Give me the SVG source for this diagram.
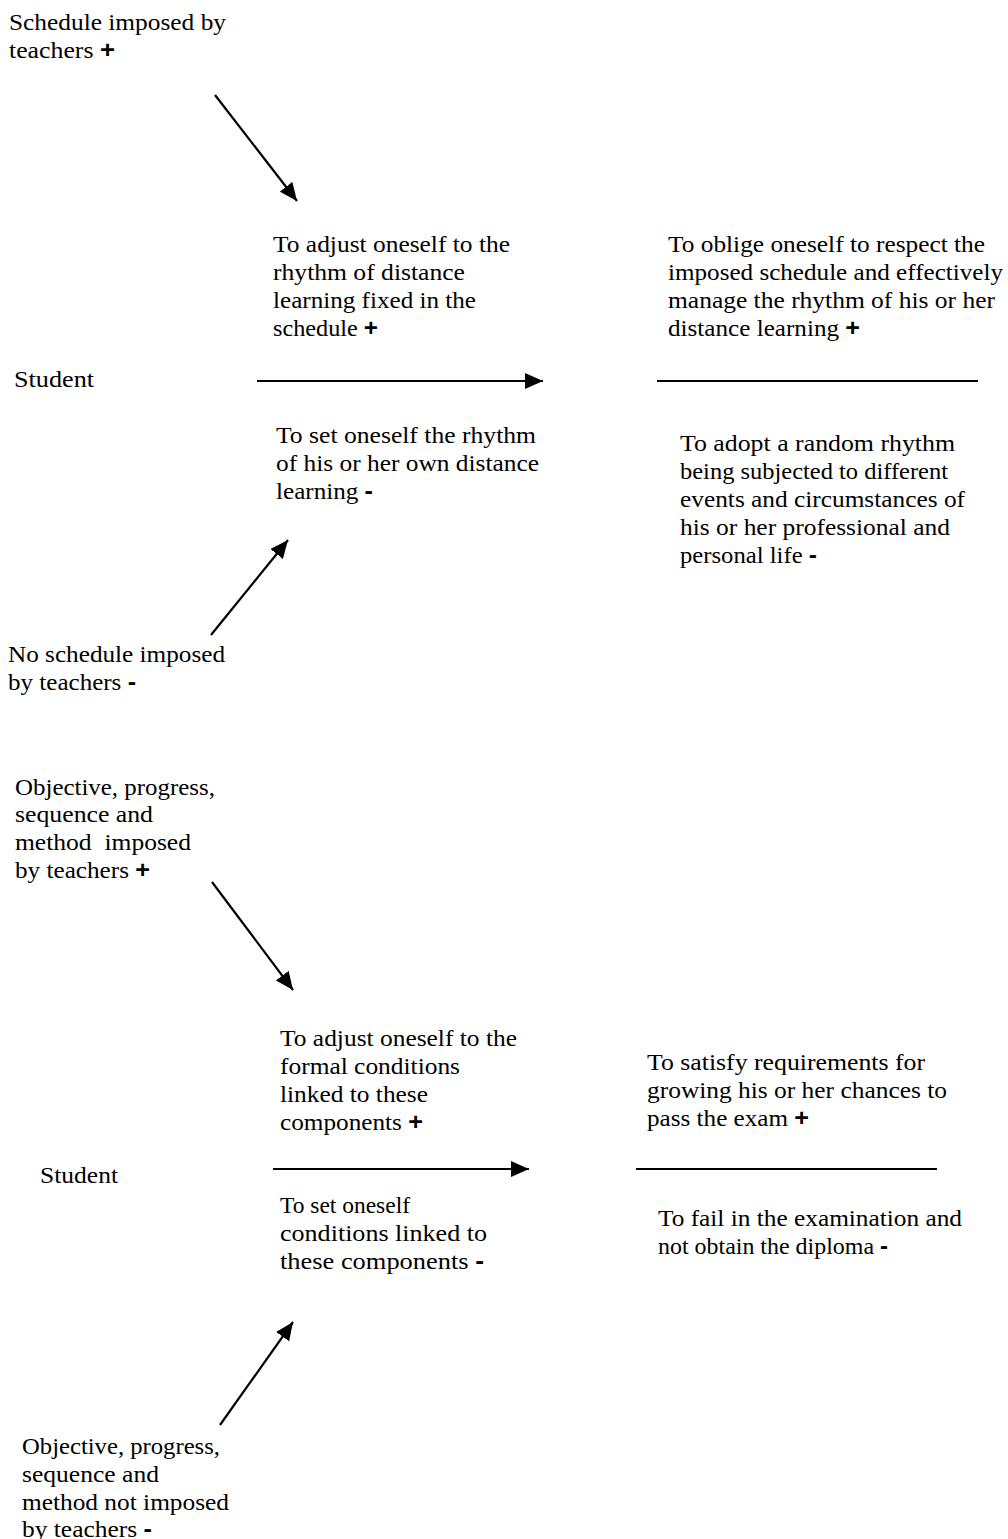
<svg xmlns="http://www.w3.org/2000/svg" width="1008" height="1539" viewBox="0 0 1008 1539">
<style>
text{font-family:"Liberation Serif","Times New Roman",serif;font-size:23px;fill:#000;}
.s{font-family:"Liberation Sans",Arial,sans-serif;font-weight:bold;}
.c{stroke:#000;stroke-width:2.2;fill:none;}
</style>
<defs>
<marker id="ah" markerUnits="userSpaceOnUse" markerWidth="18" markerHeight="16" refX="18" refY="8" orient="auto">
<path d="M0,0 L18,8 L0,16 z" fill="#000"/>
</marker>
</defs>
<rect width="1008" height="1539" fill="#fff"/>
<g id="connectors">
<line class="c" x1="215" y1="95" x2="297" y2="201" marker-end="url(#ah)"/>
<line class="c" x1="257" y1="381" x2="543" y2="381" marker-end="url(#ah)"/>
<line class="c" x1="657" y1="381" x2="978" y2="381"/>
<line class="c" x1="211" y1="635" x2="288" y2="540" marker-end="url(#ah)"/>
<line class="c" x1="212" y1="882" x2="293" y2="990" marker-end="url(#ah)"/>
<line class="c" x1="273" y1="1169" x2="529" y2="1169" marker-end="url(#ah)"/>
<line class="c" x1="636" y1="1169" x2="937" y2="1169"/>
<line class="c" x1="220" y1="1425" x2="293" y2="1322" marker-end="url(#ah)"/>
</g>
<g id="schedule-imposed">
<text x="9" y="30" textLength="217" lengthAdjust="spacingAndGlyphs">Schedule imposed by</text>
<text x="9" y="58" textLength="106" lengthAdjust="spacingAndGlyphs">teachers <tspan class="s">+</tspan></text>
</g>
<g id="adjust-rhythm">
<text x="273" y="252" textLength="237" lengthAdjust="spacingAndGlyphs">To adjust oneself to the</text>
<text x="273" y="280" textLength="192" lengthAdjust="spacingAndGlyphs">rhythm of distance</text>
<text x="273" y="308" textLength="203" lengthAdjust="spacingAndGlyphs">learning fixed in the</text>
<text x="273" y="336" textLength="105" lengthAdjust="spacingAndGlyphs">schedule <tspan class="s">+</tspan></text>
</g>
<g id="oblige">
<text x="668" y="252" textLength="317" lengthAdjust="spacingAndGlyphs">To oblige oneself to respect the</text>
<text x="668" y="280" textLength="335" lengthAdjust="spacingAndGlyphs">imposed schedule and effectively</text>
<text x="668" y="308" textLength="327" lengthAdjust="spacingAndGlyphs">manage the rhythm of his or her</text>
<text x="668" y="336" textLength="192" lengthAdjust="spacingAndGlyphs">distance learning <tspan class="s">+</tspan></text>
</g>
<g id="student-1">
<text x="14" y="387" textLength="80" lengthAdjust="spacingAndGlyphs">Student</text>
</g>
<g id="set-rhythm">
<text x="276" y="443" textLength="260" lengthAdjust="spacingAndGlyphs">To set oneself the rhythm</text>
<text x="276" y="471" textLength="263" lengthAdjust="spacingAndGlyphs">of his or her own distance</text>
<text x="276" y="499" textLength="97" lengthAdjust="spacingAndGlyphs">learning <tspan class="s">-</tspan></text>
</g>
<g id="random-rhythm">
<text x="680" y="451" textLength="275" lengthAdjust="spacingAndGlyphs">To adopt a random rhythm</text>
<text x="680" y="479" textLength="268" lengthAdjust="spacingAndGlyphs">being subjected to different</text>
<text x="680" y="507" textLength="285" lengthAdjust="spacingAndGlyphs">events and circumstances of</text>
<text x="680" y="535" textLength="270" lengthAdjust="spacingAndGlyphs">his or her professional and</text>
<text x="680" y="563" textLength="137" lengthAdjust="spacingAndGlyphs">personal life <tspan class="s">-</tspan></text>
</g>
<g id="no-schedule">
<text x="8" y="662" textLength="217" lengthAdjust="spacingAndGlyphs">No schedule imposed</text>
<text x="8" y="690" textLength="128" lengthAdjust="spacingAndGlyphs">by teachers <tspan class="s">-</tspan></text>
</g>
<g id="objective-imposed">
<text x="15" y="795" textLength="200" lengthAdjust="spacingAndGlyphs">Objective, progress,</text>
<text x="15" y="822" textLength="138" lengthAdjust="spacingAndGlyphs">sequence and</text>
<text x="15" y="850" textLength="176" lengthAdjust="spacingAndGlyphs" xml:space="preserve">method  imposed</text>
<text x="15" y="878" textLength="135" lengthAdjust="spacingAndGlyphs">by teachers <tspan class="s">+</tspan></text>
</g>
<g id="adjust-conditions">
<text x="280" y="1046" textLength="237" lengthAdjust="spacingAndGlyphs">To adjust oneself to the</text>
<text x="280" y="1074" textLength="180" lengthAdjust="spacingAndGlyphs">formal conditions</text>
<text x="280" y="1102" textLength="148" lengthAdjust="spacingAndGlyphs">linked to these</text>
<text x="280" y="1130" textLength="143" lengthAdjust="spacingAndGlyphs">components <tspan class="s">+</tspan></text>
</g>
<g id="satisfy">
<text x="647" y="1070" textLength="278" lengthAdjust="spacingAndGlyphs">To satisfy requirements for</text>
<text x="647" y="1098" textLength="300" lengthAdjust="spacingAndGlyphs">growing his or her chances to</text>
<text x="647" y="1126" textLength="162" lengthAdjust="spacingAndGlyphs">pass the exam <tspan class="s">+</tspan></text>
</g>
<g id="student-2">
<text x="40" y="1183" textLength="78" lengthAdjust="spacingAndGlyphs">Student</text>
</g>
<g id="set-conditions">
<text x="280" y="1213" textLength="130" lengthAdjust="spacingAndGlyphs">To set oneself</text>
<text x="280" y="1241" textLength="207" lengthAdjust="spacingAndGlyphs">conditions linked to</text>
<text x="280" y="1269" textLength="204" lengthAdjust="spacingAndGlyphs">these components <tspan class="s">-</tspan></text>
</g>
<g id="fail">
<text x="658" y="1226" textLength="304" lengthAdjust="spacingAndGlyphs">To fail in the examination and</text>
<text x="658" y="1254" textLength="230" lengthAdjust="spacingAndGlyphs">not obtain the diploma <tspan class="s">-</tspan></text>
</g>
<g id="objective-not-imposed">
<text x="22" y="1454" textLength="198" lengthAdjust="spacingAndGlyphs">Objective, progress,</text>
<text x="22" y="1482" textLength="137" lengthAdjust="spacingAndGlyphs">sequence and</text>
<text x="22" y="1510" textLength="207" lengthAdjust="spacingAndGlyphs">method not imposed</text>
<text x="22" y="1537" textLength="130" lengthAdjust="spacingAndGlyphs">by teachers <tspan class="s">-</tspan></text>
</g>
</svg>
